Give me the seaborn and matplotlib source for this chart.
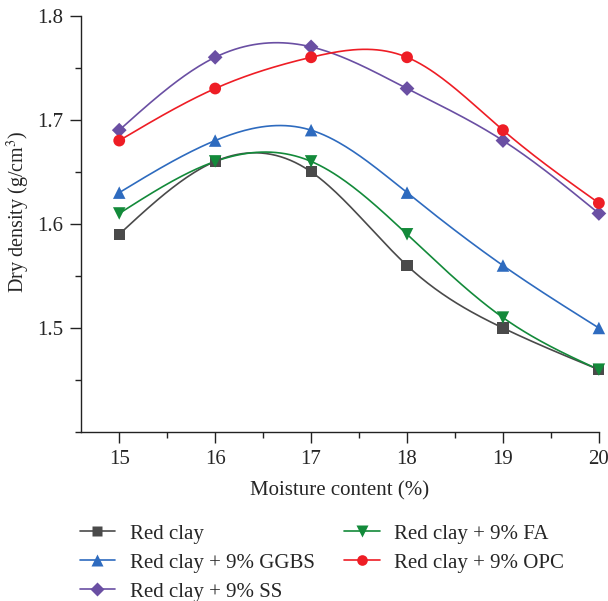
import numpy as np
import pandas as pd
import matplotlib
matplotlib.use("Agg")
import matplotlib.pyplot as plt
from matplotlib.lines import Line2D
from matplotlib.ticker import MultipleLocator
import seaborn as sns

# -----------------------------
# DATA
# -----------------------------
moisture = [15, 16, 17, 18, 19, 20]
red_clay = [1.59, 1.66, 1.65, 1.56, 1.50, 1.46]
ggbs     = [1.63, 1.68, 1.69, 1.63, 1.56, 1.50]
ss       = [1.69, 1.76, 1.77, 1.73, 1.68, 1.61]
fa       = [1.61, 1.66, 1.66, 1.59, 1.51, 1.46]
opc      = [1.68, 1.73, 1.76, 1.76, 1.69, 1.62]

series = ["Red clay", "Red clay + 9% GGBS", "Red clay + 9% SS",
          "Red clay + 9% FA", "Red clay + 9% OPC"]
values = [red_clay, ggbs, ss, fa, opc]
colors = ["#4a4a4a", "#2e6bbf", "#6a4fa3", "#138a3a", "#ee1d25"]
markers = ["s", "^", "D", "v", "o"]
msizes = [8, 9, 7.5, 9, 8.5]


def natural_spline(x, y, n=200):
    # plain natural cubic spline, used only to draw the smooth connecting line
    x = np.asarray(x, float)
    y = np.asarray(y, float)
    h = np.diff(x)
    k = len(x)
    A = np.zeros((k, k))
    b = np.zeros(k)
    A[0, 0] = A[-1, -1] = 1
    for i in range(1, k - 1):
        A[i, i - 1] = h[i - 1]
        A[i, i] = 2 * (h[i - 1] + h[i])
        A[i, i + 1] = h[i]
        b[i] = 3 * ((y[i + 1] - y[i]) / h[i] - (y[i] - y[i - 1]) / h[i - 1])
    c = np.linalg.solve(A, b)
    xs = np.linspace(x[0], x[-1], n)
    idx = np.clip(np.searchsorted(x, xs) - 1, 0, k - 2)
    dx = xs - x[idx]
    bb = (y[idx + 1] - y[idx]) / h[idx] - h[idx] * (2 * c[idx] + c[idx + 1]) / 3
    dd = (c[idx + 1] - c[idx]) / (3 * h[idx])
    ys = y[idx] + bb * dx + c[idx] * dx ** 2 + dd * dx ** 3
    return xs, ys


pts = pd.DataFrame({"moisture": np.tile(moisture, len(series)),
                    "density": np.concatenate(values),
                    "mix": np.repeat(series, len(moisture))})

sns.set_style("ticks")
plt.rcParams["font.family"] = ["Liberation Serif", "DejaVu Serif"]
plt.rcParams["mathtext.fontset"] = "stix"

fig = plt.figure(figsize=(6.08, 6.01), dpi=100)
ax = fig.add_axes([0.133, 0.281, 0.852, 0.693])

for name, vals, col in zip(series, values, colors):
    xs, ys = natural_spline(moisture, vals)
    curve = pd.DataFrame({"x": xs, "y": ys})
    sns.lineplot(data=curve, x="x", y="y", ax=ax, color=col, lw=1.2,
                 legend=False, clip_on=False)

for name, col, mk, ms in zip(series, colors, markers, msizes):
    sub = pts[pts["mix"] == name]
    sns.scatterplot(data=sub, x="moisture", y="density", ax=ax, color=col,
                    marker=mk, s=ms ** 2, edgecolor="none", legend=False,
                    clip_on=False, zorder=5)

ax.set_xlim(14.6, 20)
ax.set_ylim(1.4, 1.8)
ax.set_xticks([15, 16, 17, 18, 19, 20])
ax.set_yticks([1.5, 1.6, 1.7, 1.8])
ax.xaxis.set_minor_locator(MultipleLocator(0.5))
ax.yaxis.set_minor_locator(MultipleLocator(0.05))
ax.tick_params(which="major", length=8, width=1, labelsize=15, color="#222222",
               pad=5)
ax.tick_params(which="minor", length=4, width=1, color="#222222")
ax.set_yticklabels(["1.5", "1.6", "1.7", "1.8"])
for s in ["top", "right"]:
    ax.spines[s].set_visible(False)
for s in ["left", "bottom"]:
    ax.spines[s].set_linewidth(1)
    ax.spines[s].set_color("#222222")

ax.set_xlabel("Moisture content (%)", fontsize=15, labelpad=9)
ax.set_ylabel("Dry density (g/cm$^3$)", fontsize=14.5, labelpad=3)
ax.yaxis.set_label_coords(-0.095, 0.53)

handles = [Line2D([], [], color=c, marker=m, markersize=ms * 0.9, lw=1.2,
                  markeredgecolor="none")
           for c, m, ms in zip(colors, markers, msizes)]
fig.legend(handles, series, loc="upper left", bbox_to_anchor=(0.131, 0.128),
           ncol=2, frameon=False, fontsize=15, handlelength=1.7,
           handletextpad=0.7, columnspacing=1.42, labelspacing=0.45,
           borderaxespad=0, borderpad=0)

plt.savefig("out.png", dpi=100)
print("Saved out.png")
